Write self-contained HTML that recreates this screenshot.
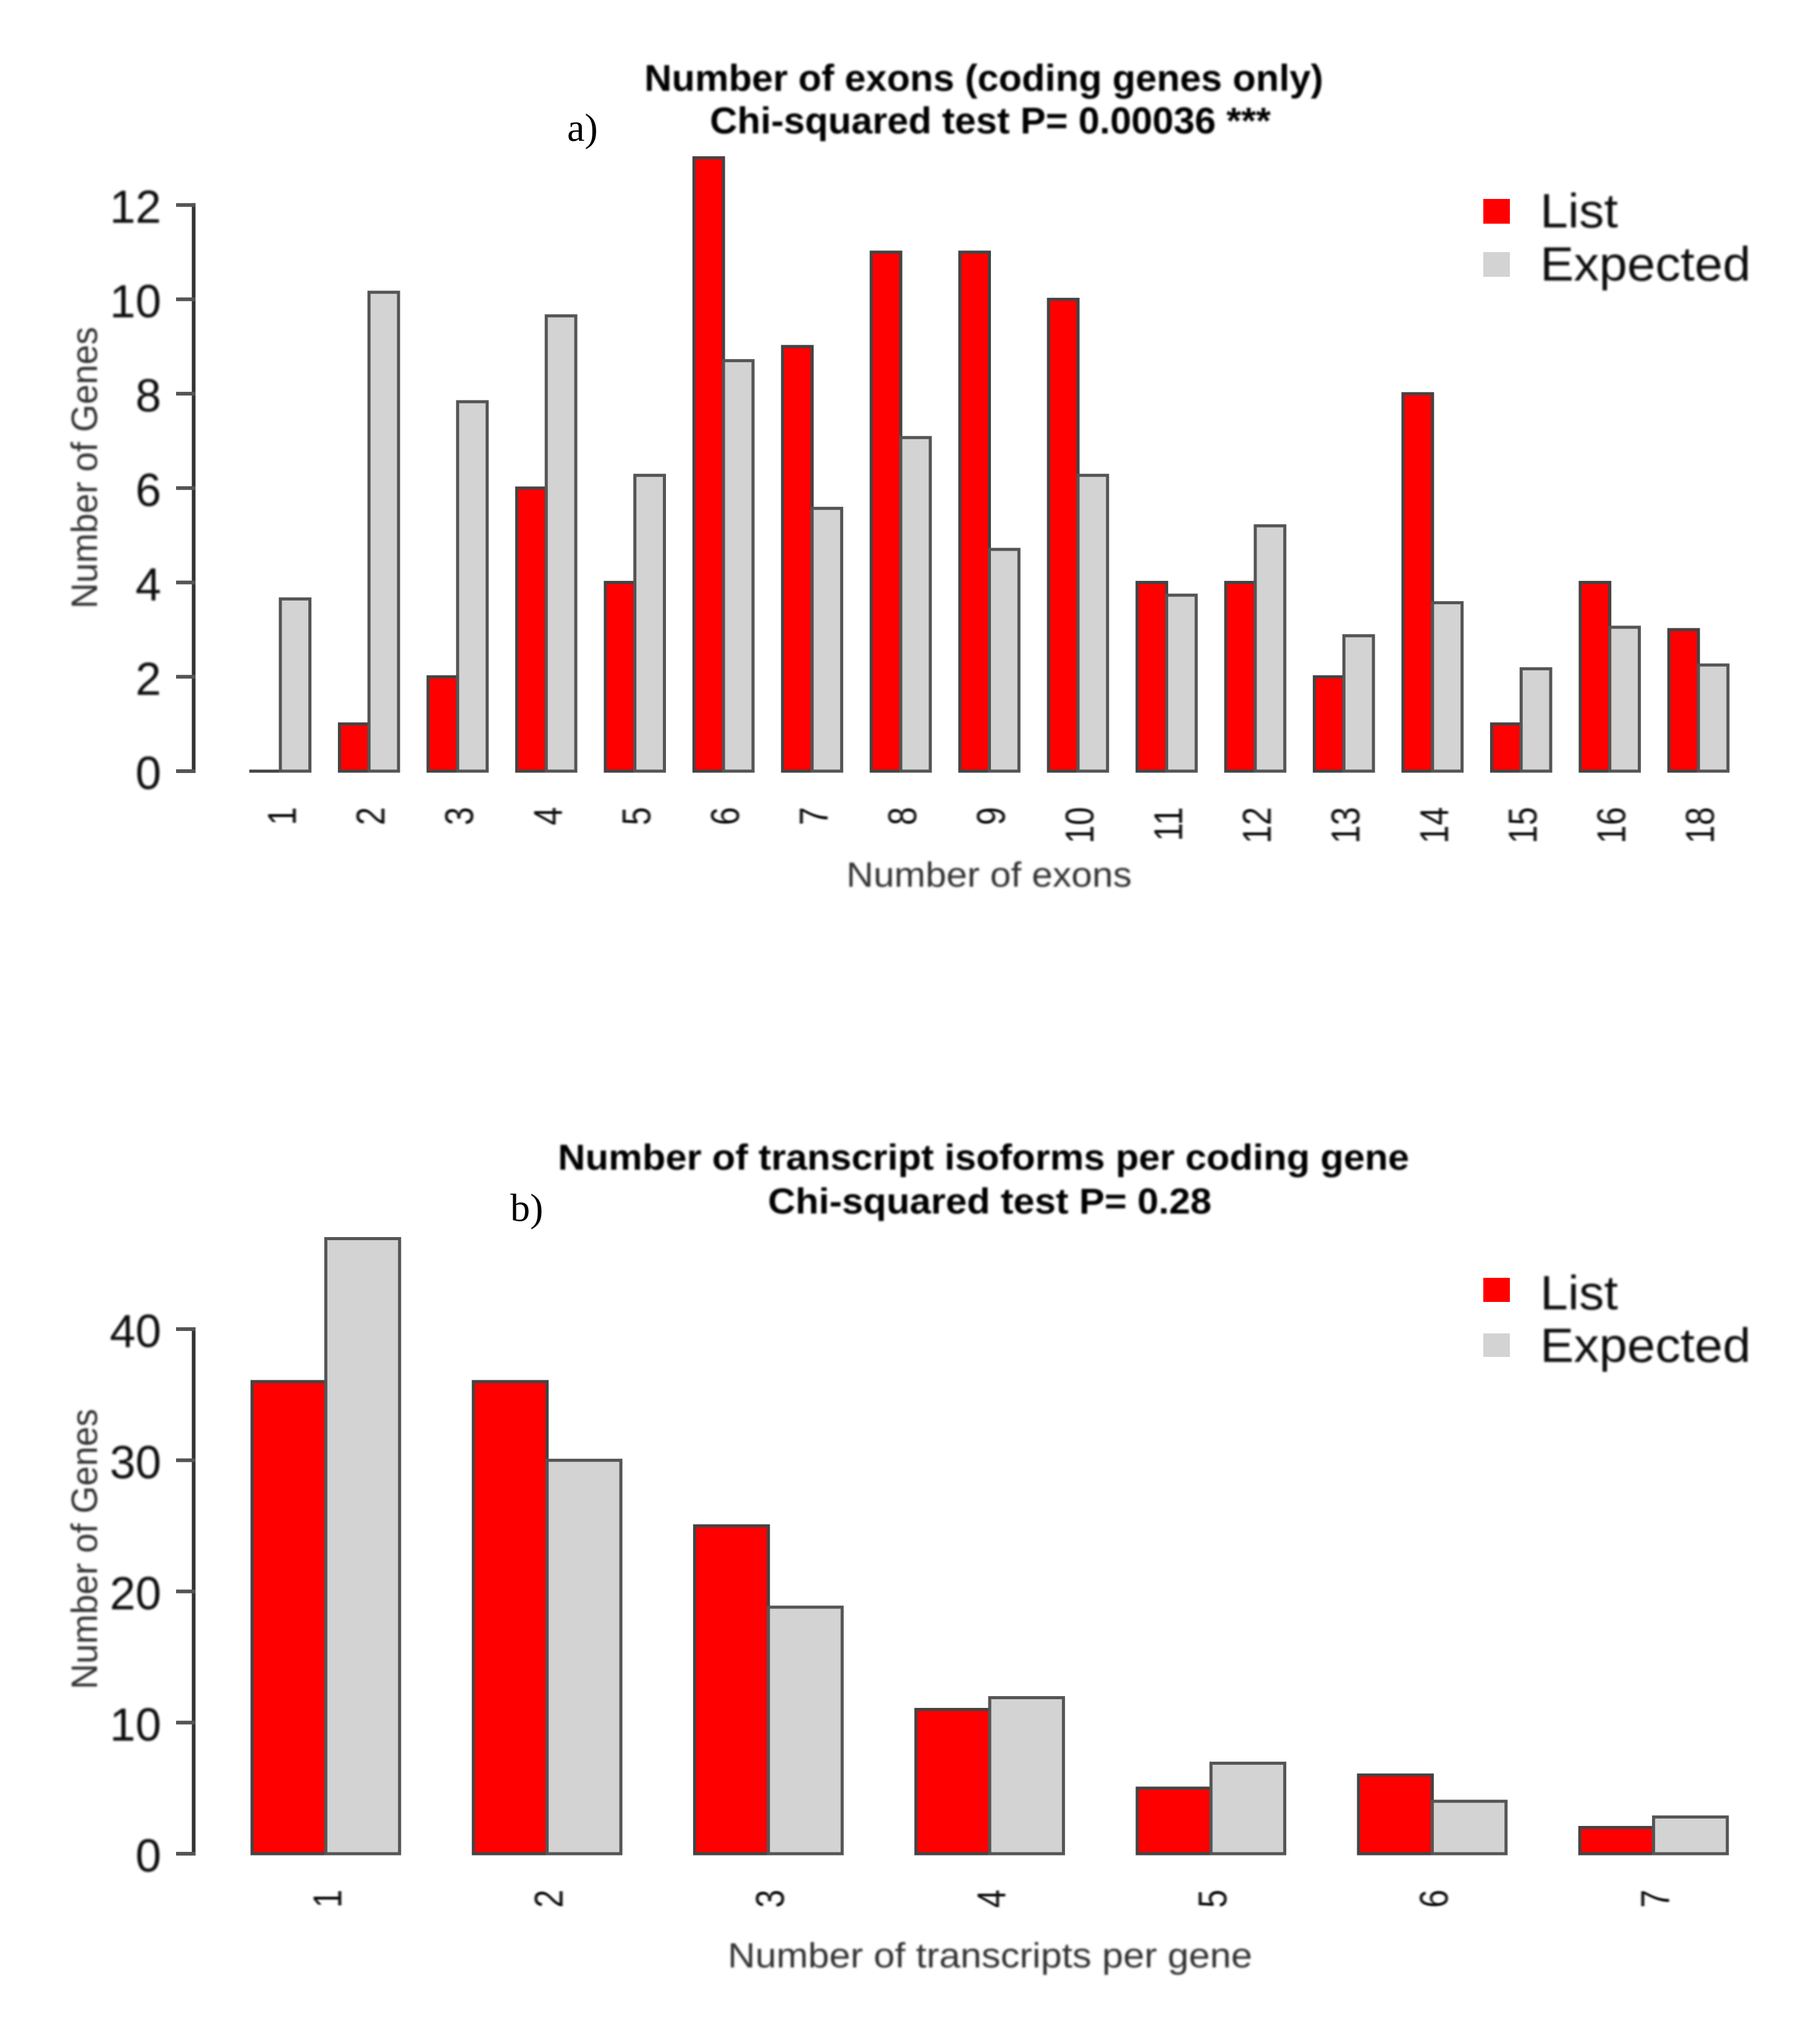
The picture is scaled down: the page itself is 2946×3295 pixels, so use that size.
<!DOCTYPE html>
<html lang="en">
<head>
<meta charset="utf-8">
<title>Number of exons and transcript isoforms</title>
<style>
html,body{margin:0;padding:0;background:#fff;width:2946px;height:3295px;overflow:hidden}
svg{display:block}
text{font-family:"Liberation Sans",sans-serif}
.soft{filter:url(#soft)}
</style>
</head>
<body>
<svg id="figure" xmlns="http://www.w3.org/2000/svg" width="2946" height="3295" viewBox="0 0 2946 3295">
<defs><filter id="soft" x="-5%" y="-20%" width="110%" height="140%"><feGaussianBlur stdDeviation="1.5"/></filter></defs>
<rect width="2946" height="3295" fill="#fff"/>

<g id="chart-a">
<g class="soft">
<text x="1043" y="147" font-size="60" font-weight="bold" fill="#000" textLength="1099" lengthAdjust="spacingAndGlyphs">Number of exons (coding genes only)</text>
<text x="1149" y="216" font-size="60" font-weight="bold" fill="#000" textLength="908" lengthAdjust="spacingAndGlyphs">Chi-squared test P= 0.00036 ***</text>
</g>
<text x="918" y="228" font-size="64" fill="#000" style="font-family:'Liberation Serif',serif">a)</text>
<text class="soft" x="1370" y="1435" font-size="57" fill="#333" textLength="462" lengthAdjust="spacingAndGlyphs">Number of exons</text>
<text class="soft" transform="translate(157,985) rotate(-90)" font-size="59" fill="#333" textLength="456" lengthAdjust="spacingAndGlyphs">Number of Genes</text>
<g>
<rect x="2401" y="322" width="43" height="40" fill="#ff0000"/>
<rect x="2401" y="408" width="43" height="40" fill="#d3d3d3"/>
<text class="soft" x="2493" y="368" font-size="78" fill="#111" textLength="126" lengthAdjust="spacingAndGlyphs">List</text>
<text class="soft" x="2493" y="454" font-size="78" fill="#111" textLength="341" lengthAdjust="spacingAndGlyphs">Expected</text>
</g>
</g>

<g id="chart-b">
<g class="soft">
<text x="903" y="1893" font-size="58" font-weight="bold" fill="#000" textLength="1378" lengthAdjust="spacingAndGlyphs">Number of transcript isoforms per coding gene</text>
<text x="1243" y="1964" font-size="58" font-weight="bold" fill="#000" textLength="718" lengthAdjust="spacingAndGlyphs">Chi-squared test P= 0.28</text>
</g>
<text x="826" y="1976" font-size="64" fill="#000" style="font-family:'Liberation Serif',serif">b)</text>
<text class="soft" x="1178" y="3184" font-size="57" fill="#333" textLength="849" lengthAdjust="spacingAndGlyphs">Number of transcripts per gene</text>
<text class="soft" transform="translate(157,2734) rotate(-90)" font-size="59" fill="#333" textLength="454" lengthAdjust="spacingAndGlyphs">Number of Genes</text>
<g>
<rect x="2401" y="2068" width="43" height="39" fill="#ff0000"/>
<rect x="2401" y="2158" width="43" height="38" fill="#d3d3d3"/>
<text class="soft" x="2493" y="2119" font-size="78" fill="#111" textLength="126" lengthAdjust="spacingAndGlyphs">List</text>
<text class="soft" x="2493" y="2204" font-size="78" fill="#111" textLength="341" lengthAdjust="spacingAndGlyphs">Expected</text>
</g>
</g>
</svg>
<script>
const exonCategories = ['1','2','3','4','5','6','7','8','9','10','11','12','13','14','15','16','18'];
const exonListValues = [0,1,2,6,4,13,9,11,11,10,4,4,2,8,1,4,3];
const exonExpectedValues = [3.65,10.15,7.83,9.65,6.27,8.7,5.57,7.07,4.7,6.27,3.73,5.2,2.87,3.57,2.17,3.05,2.25];
const exonTicks = [0,2,4,6,8,10,12];

const isoformCategories = ['1','2','3','4','5','6','7'];
const isoformListValues = [36,36,25,11,5,6,2];
const isoformExpectedValues = [46.9,30,18.8,11.9,6.9,4,2.8];
const isoformTicks = [0,10,20,30,40];

const SVG_NS = 'http://www.w3.org/2000/svg';

function make(tag, attrs, parent) {
  const el = document.createElementNS(SVG_NS, tag);
  for (const k in attrs) el.setAttribute(k, attrs[k]);
  parent.appendChild(el);
  return el;
}

function drawChart(root, categories, listValues, expectedValues, ticks, geom) {
  const yScale = v => geom.y0 - (v - ticks[0]) * (geom.y0 - geom.yTop) / (ticks[ticks.length - 1] - ticks[0]);
  const barW = (geom.xRight - geom.xLeft) / (3 * categories.length - 1);
  const xScale = i => geom.xLeft + i * 3 * barW;
  const barH = v => Math.max(geom.y0 - yScale(v), 0.01);

  categories.forEach((cat, i) => {
    const x = xScale(i);
    const list = make('rect', {x: x, y: yScale(listValues[i]), width: barW, height: barH(listValues[i]), fill: '#ff0000', stroke: '#444', 'stroke-width': 5}, root);
    
    
    const exp = make('rect', {x: x + barW, y: yScale(expectedValues[i]), width: barW, height: barH(expectedValues[i]), fill: '#d3d3d3', stroke: '#555', 'stroke-width': 5}, root);
    
    
    const cx = x + barW + 2;
    const label = make('text', {transform: 'translate(' + (cx + 23) + ',' + geom.labelTop + ') rotate(-90) scale(0.82,1)', 'text-anchor': 'end', 'font-size': 65, fill: '#111', 'class': 'soft'}, root);
    
    
    label.textContent = cat;
  });

  const axis = make('line', {x1: 313.5, x2: 313.5, y1: yScale(ticks[0]) + 3, y2: yScale(ticks[ticks.length - 1]) - 3, stroke: '#333', 'stroke-width': 6}, root);
  
  

  ticks.forEach(t => {
    const tick = make('line', {x1: 285, x2: 316, y1: yScale(t), y2: yScale(t), stroke: '#555', 'stroke-width': 6}, root);
    
    
    const lab = make('text', {x: 261, y: yScale(t) + 29, 'text-anchor': 'end', 'font-size': 75, fill: '#111', 'class': 'soft'}, root);
    
    
    lab.textContent = String(t);
  });
}

drawChart(document.getElementById('chart-a'), exonCategories, exonListValues, exonExpectedValues, exonTicks,
  {xLeft: 406, xRight: 2797, y0: 1248, yTop: 331.7, labelTop: 1306});
drawChart(document.getElementById('chart-b'), isoformCategories, isoformListValues, isoformExpectedValues, isoformTicks,
  {xLeft: 408, xRight: 2796, y0: 3000, yTop: 2151, labelTop: 3058});
</script>
</body>
</html>
